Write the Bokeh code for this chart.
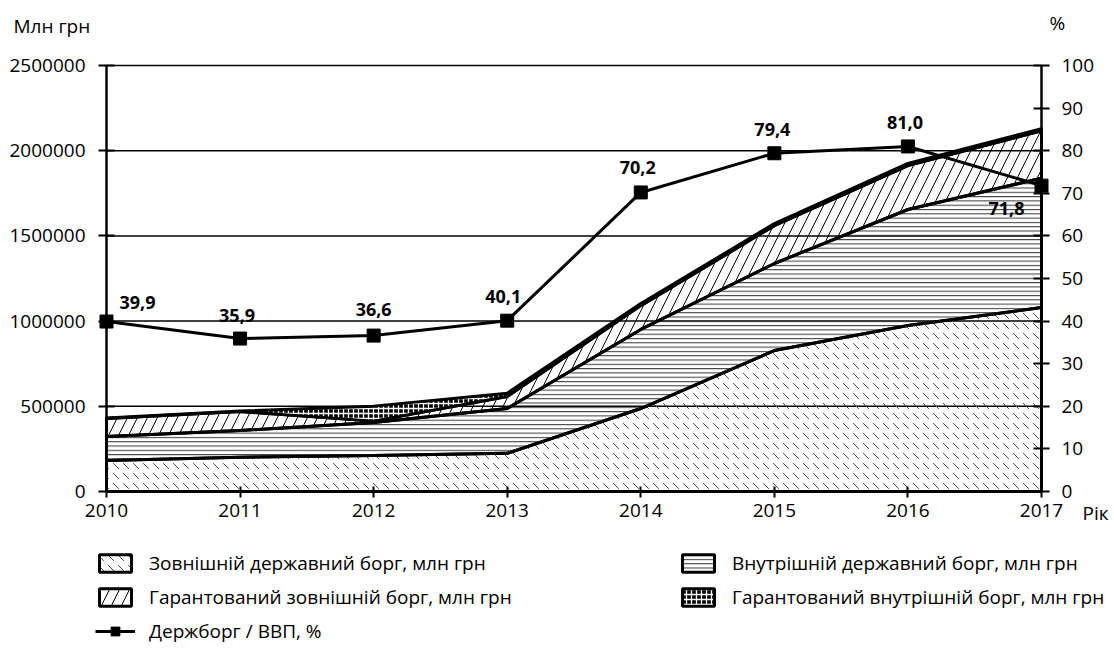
import numpy as np
from bokeh.plotting import figure
from bokeh.models import (Range1d, LinearAxis, FixedTicker, Legend, LegendItem,
                          LabelSet, Label, ColumnDataSource, NumeralTickFormatter)
from bokeh.core.properties import value
from bokeh.embed import file_html
from bokeh.resources import INLINE

# ---------------- data ----------------
years = [2010, 2011, 2012, 2013, 2014, 2015, 2016, 2017]
external_debt = [182000, 201000, 211000, 224000, 487000, 827000, 974000, 1080000]
internal_debt = [141000, 157000, 194000, 263000, 464000, 511000, 681000, 759000]
guar_external = [106000, 111000, 8000, 70000, 140000, 222000, 258000, 278000]
guar_internal = [3000, 3000, 88000, 20000, 12000, 12000, 12000, 12000]
debt_gdp = [39.9, 35.9, 36.6, 40.1, 70.2, 79.4, 81.0, 71.8]
debt_gdp_text = ["39,9", "35,9", "36,6", "40,1", "70,2", "79,4", "81,0", "71,8"]
left_ticks = [0, 500000, 1000000, 1500000, 2000000, 2500000]
right_ticks = [0, 10, 20, 30, 40, 50, 60, 70, 80, 90, 100]
names = ["Зовнішній державний борг, млн грн",
         "Внутрішній державний борг, млн грн",
         "Гарантований зовнішній борг, млн грн",
         "Гарантований внутрішній борг, млн грн",
         "Держборг / ВВП, %"]

# value-label offsets (screen px)
lab_dx = [31, -3, 0, -4, -3, -2, -3, -35]
lab_dy = [19, 23, 26, 24, 25, 24, 24, -23]

FONT = "Open Sans"

# ---------------- layout (canvas pixels) ----------------
W, H = 1110, 650
PX_L, PX_R = 106, 1041      # x pixel of first / last year
PY_T, PY_B = 65, 491        # y pixel of axis top / zero

sx = (years[-1] - years[0]) / (PX_R - PX_L)
x_rng = Range1d(years[0] - PX_L * sx, years[0] + (W - PX_L) * sx)
sy = left_ticks[-1] / (PY_B - PY_T)
y_rng = Range1d(-(H - PY_B) * sy, left_ticks[-1] + PY_T * sy)
sp = right_ticks[-1] / (PY_B - PY_T)
p_rng = Range1d(-(H - PY_B) * sp, right_ticks[-1] + PY_T * sp)

p = figure(width=W, height=H, x_range=x_rng, y_range=y_rng,
           output_backend="svg", toolbar_location=None,
           min_border_left=0, min_border_right=0, min_border_top=0, min_border_bottom=0,
           background_fill_color="white", border_fill_color="white")
p.outline_line_color = None
p.extra_y_ranges = {"pct": p_rng}
p.xgrid.visible = False
p.ygrid.visible = False
p.xaxis.visible = False
p.yaxis.visible = False

# horizontal grid lines at the left-axis ticks
p.segment(x0=[years[0]] * len(left_ticks), x1=[years[-1]] * len(left_ticks),
          y0=left_ticks, y1=left_ticks, line_color="black", line_width=1.5)

# stacked layers
layers = [external_debt, internal_debt, guar_external, guar_internal]
cum = np.cumsum(np.array(layers, dtype=float), axis=0)
styles = [
    dict(fill_color=None, hatch_pattern="left_diagonal_dash", hatch_scale=10,
         hatch_weight=0.9, hatch_color="#333333"),
    dict(fill_color=None, hatch_pattern="horizontal_line", hatch_scale=4.3,
         hatch_weight=1, hatch_color="#333333"),
    dict(fill_color=None, hatch_pattern="right_diagonal_line", hatch_scale=20,
         hatch_weight=1, hatch_color="black"),
    dict(fill_color="black", hatch_pattern="cross", hatch_scale=5,
         hatch_weight=1.3, hatch_color="white"),
]
renderers = []
for i in range(4):
    lower = np.zeros(len(years)) if i == 0 else cum[i - 1]
    upper = cum[i]
    xs = list(years) + list(years[::-1])
    ys = list(upper) + list(lower[::-1])
    renderers.append(p.patch(xs, ys, line_color="black", line_width=3, **styles[i]))

# ratio line
rl = p.line(years, debt_gdp, y_range_name="pct", line_color="black", line_width=3)
rs = p.scatter(years, debt_gdp, y_range_name="pct", marker="square", size=13,
               fill_color="black", line_color="black")

src = ColumnDataSource(dict(x=years, y=debt_gdp, text=debt_gdp_text, dx=lab_dx, dy=lab_dy))
p.add_layout(LabelSet(x="x", y="y", text="text", x_offset="dx", y_offset="dy",
                      y_range_name="pct", source=src, text_align="center",
                      text_baseline="middle", text_font=value(FONT),
                      text_font_style="bold", text_font_size="18px",
                      text_color="black"))

# axes (fixed inside the frame)
def style_axis(ax, tin, tout, standoff):
    ax.axis_line_width = 2.5
    ax.axis_line_color = "black"
    ax.major_tick_line_width = 2
    ax.major_tick_line_color = "black"
    ax.minor_tick_line_color = None
    ax.major_tick_in = tin
    ax.major_tick_out = tout
    ax.major_label_standoff = standoff
    ax.major_label_text_font = FONT
    ax.major_label_text_font_size = "19px"
    ax.major_label_text_color = "black"

lax = LinearAxis(ticker=FixedTicker(ticks=left_ticks), formatter=NumeralTickFormatter(format="0"),
                 fixed_location=years[0], bounds=(left_ticks[0], left_ticks[-1]))
style_axis(lax, 8, 8, 13)
p.add_layout(lax, "left")

bax = LinearAxis(ticker=FixedTicker(ticks=years), fixed_location=0,
                 bounds=(years[0], years[-1]))
style_axis(bax, 5, 6, 6)
p.add_layout(bax, "below")

rax = LinearAxis(y_range_name="pct", ticker=FixedTicker(ticks=right_ticks),
                 fixed_location=years[-1], bounds=(right_ticks[0], right_ticks[-1]))
style_axis(rax, 8, 8, 12)
p.add_layout(rax, "right")

# free texts (screen px from bottom-left)
for txt, x, y in [("Млн грн", 13, H - 25), ("%", 1049, H - 22), ("Рік", 1082, H - 512)]:
    p.add_layout(Label(x=x, y=y, x_units="screen", y_units="screen", text=txt,
                       text_font=FONT, text_font_size="19px", text_align="left",
                       text_baseline="middle", text_color="black"))

# legends
common = dict(glyph_width=40, glyph_height=22, label_standoff=14, spacing=8,
              padding=0, margin=0, border_line_color=None, background_fill_alpha=0,
              label_text_font=FONT, label_text_font_size="19px", label_height=24,
              label_text_color="black", orientation="vertical")
leg1 = Legend(items=[LegendItem(label=names[0], renderers=[renderers[0]]),
                     LegendItem(label=names[2], renderers=[renderers[2]]),
                     LegendItem(label=names[4], renderers=[rl, rs])],
              location=(95, 6), **common)
leg2 = Legend(items=[LegendItem(label=names[1], renderers=[renderers[1]]),
                     LegendItem(label=names[3], renderers=[renderers[3]])],
              location=(678, 40), **common)
p.add_layout(leg1)
p.add_layout(leg2)

open("out.html", "w").write(file_html(p, INLINE))
